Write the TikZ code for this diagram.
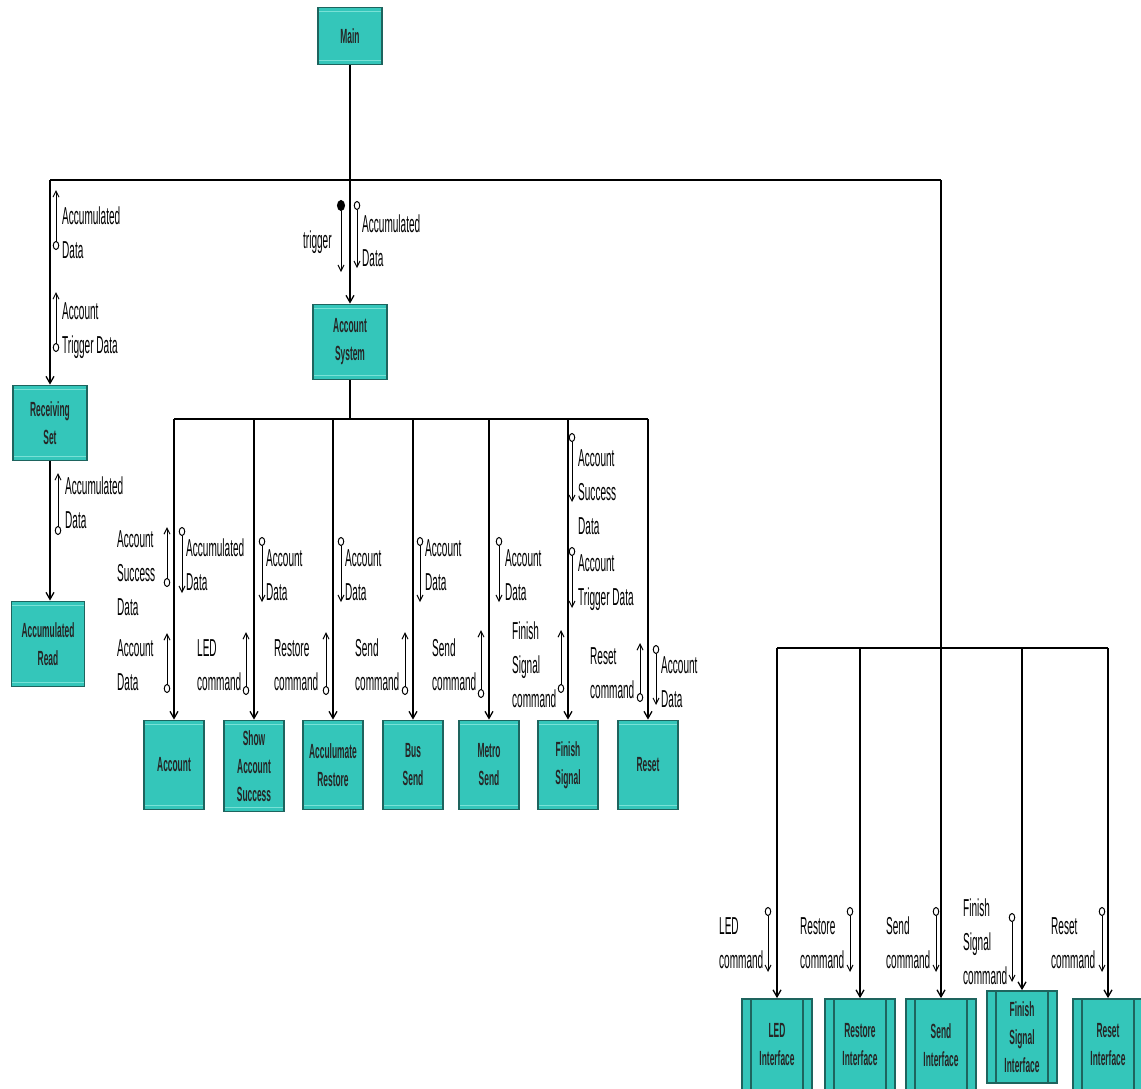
\documentclass[tikz,border=0pt]{standalone}
\usepackage{fontspec}
\setmainfont{Liberation Sans}[FakeStretch=0.41]
\usetikzlibrary{arrows.meta}
\definecolor{boxfill}{RGB}{52,198,186}
\definecolor{boxedge}{RGB}{30,100,94}
\definecolor{boxlight}{RGB}{120,225,214}

\begin{document}
\begin{tikzpicture}[x=1pt,y=-1pt,
  module/.style={draw=boxedge,fill=boxfill,line width=1.8pt,inner sep=0pt,align=center,
    font=\fontsize{20.5}{28}\selectfont\bfseries,text=black!85,
    path picture={\draw[boxlight,line width=0.8pt]
      ([yshift=-4pt]path picture bounding box.north west) -- ([yshift=-4pt]path picture bounding box.north east)
      ([yshift=4pt]path picture bounding box.south west) -- ([yshift=4pt]path picture bounding box.south east);}},
  iface/.style={module,minimum width=70pt,minimum height=92pt,
    path picture={\draw[boxedge,line width=1.2pt]
      ([xshift=9pt]path picture bounding box.north west) -- ([xshift=9pt]path picture bounding box.south west)
      ([xshift=-9pt]path picture bounding box.north east) -- ([xshift=-9pt]path picture bounding box.south east);}},
  sub/.style={module,minimum width=60pt,minimum height=89pt},
  bus/.style={line width=2.6pt},
  link/.style={line width=1.3pt,-{Straight Barb[length=7pt,width=8pt]}},
  flow/.style={line width=1pt,{Circle[open,length=9pt,width=6.5pt]}-{Straight Barb[length=6pt,width=6pt]}},
  flag/.style={line width=1pt,{Circle[length=11pt,width=8pt]}-{Straight Barb[length=6pt,width=6pt]}},
  lbl/.style={anchor=west,align=left,inner sep=0pt,font=\fontsize{24.5}{34}\selectfont}]
\useasboundingbox (0,0) rectangle (1141,1088);

\node[module,minimum width=64pt,minimum height=57pt] (main) at (350,36) {Main};
\node[module,minimum width=74pt,minimum height=75pt] (recv) at (50,423) {Receiving\\Set};
\node[module,minimum width=73pt,minimum height=85pt] (aread) at (48,644) {Accumulated\\Read};
\node[module,minimum width=74pt,minimum height=75pt] (asys) at (350,342) {Account\\System};

\node[sub] (acc) at (174,765) {Account};
\node[sub,minimum height=91pt] (show) at (254,766) {Show\\Account\\Success};
\node[sub] (arest) at (333,765) {Acculumate\\Restore};
\node[sub] (bus) at (413,765) {Bus\\Send};
\node[sub] (metro) at (489,765) {Metro\\Send};
\node[sub] (fin) at (568,765) {Finish\\Signal};
\node[sub] (rst) at (648,765) {Reset};

\node[iface] (ledi) at (777,1045) {LED\\Interface};
\node[iface] (resti) at (860,1045) {Restore\\Interface};
\node[iface] (sendi) at (941,1045) {Send\\Interface};
\node[iface] (fini) at (1022,1037) {Finish\\Signal\\Interface};
\node[iface] (rsti) at (1108,1045) {Reset\\Interface};

\coordinate (t1) at (50,180);
\coordinate (t2) at (941,180);
\coordinate (m1) at (0,419);
\coordinate (r1) at (941,648);

\draw[bus] (t1) -- (t2);
\draw[link,-] (main) -- (main |- t1);
\draw[link] (t1) -- (recv);
\draw[link] (main |- t1) -- (asys);
\draw[link] (recv.south) -- (recv.south |- aread.north);
\draw[link,-] (t2) -- (r1);

\draw[link,-] (asys) -- (asys |- m1);
\draw[bus] (acc |- m1) -- (rst |- m1);
\draw[link] (acc |- m1) -- (acc);
\draw[link] (show |- m1) -- (show);
\draw[link] (arest |- m1) -- (arest);
\draw[link] (bus |- m1) -- (bus);
\draw[link] (metro |- m1) -- (metro);
\draw[link] (fin |- m1) -- (fin);
\draw[link] (rst |- m1) -- (rst);

\draw[bus] (ledi |- r1) -- (rsti |- r1);
\draw[link] (ledi |- r1) -- (ledi);
\draw[link] (resti |- r1) -- (resti);
\draw[link] (sendi |- r1) -- (sendi);
\draw[link] (fini |- r1) -- (fini);
\draw[link] (rsti |- r1) -- (rsti);

\draw[flow] (56,250) -- (56,190);
\node[lbl] (l1) at (62,233) {Accumulated\\Data};
\draw[flow] (56,352) -- (56,292);
\node[lbl] (l2) at (62,331) {Account\\Trigger Data};
\draw[flow] (58,535) -- (58,473);
\node[lbl] (l3) at (65,503) {Accumulated\\Data};

\draw[flag] (341,200) -- (341,272);
\node[lbl] (l4) at (303,242) {trigger};
\draw[flow] (357,201) -- (357,268);
\node[lbl] (l5) at (362,241) {Accumulated\\Data};

\draw[flow] (167,587) -- (167,527);
\node[lbl] (l6) at (117,573) {Account\\Success\\Data};
\draw[flow] (167,693) -- (167,633);
\node[lbl] (l7) at (117,665) {Account\\Data};
\draw[flow] (182,527) -- (182,593);
\node[lbl] (l8) at (186,565) {Accumulated\\Data};

\draw[flow] (246,695) -- (246,632);
\node[lbl] (l9) at (197,665) {LED\\command};
\draw[flow] (262,537) -- (262,602);
\node[lbl] (l10) at (266,575) {Account\\Data};

\draw[flow] (326,695) -- (326,632);
\node[lbl] (l11) at (274,665) {Restore\\command};
\draw[flow] (341,537) -- (341,602);
\node[lbl] (l12) at (345,575) {Account\\Data};

\draw[flow] (405,695) -- (405,632);
\node[lbl] (l13) at (355,665) {Send\\command};
\draw[flow] (420,537) -- (420,602);
\node[lbl] (l14) at (425,565) {Account\\Data};

\draw[flow] (481,698) -- (481,630);
\node[lbl] (l15) at (432,665) {Send\\command};
\draw[flow] (499,537) -- (499,602);
\node[lbl] (l16) at (505,575) {Account\\Data};

\draw[flow] (561,693) -- (561,630);
\node[lbl] (l17) at (512,665) {Finish\\Signal\\command};
\draw[flow] (572,433) -- (572,502);
\node[lbl] (l18) at (578,492) {Account\\Success\\Data};
\draw[flow] (572,547) -- (572,608);
\node[lbl] (l19) at (578,583) {Account\\Trigger Data};

\draw[flow] (640,702) -- (640,643);
\node[lbl] (l20) at (590,673) {Reset\\command};
\draw[flow] (656,645) -- (656,705);
\node[lbl] (l21) at (661,682) {Account\\Data};

\draw[flow] (768,907) -- (768,972);
\node[lbl] (l22) at (719,943) {LED\\command};
\draw[flow] (850,907) -- (850,972);
\node[lbl] (l23) at (800,943) {Restore\\command};
\draw[flow] (936,907) -- (936,972);
\node[lbl] (l24) at (886,943) {Send\\command};
\draw[flow] (1012,913) -- (1012,982);
\node[lbl] (l25) at (963,942) {Finish\\Signal\\command};
\draw[flow] (1102,907) -- (1102,972);
\node[lbl] (l26) at (1051,943) {Reset\\command};
\end{tikzpicture}
\end{document}
